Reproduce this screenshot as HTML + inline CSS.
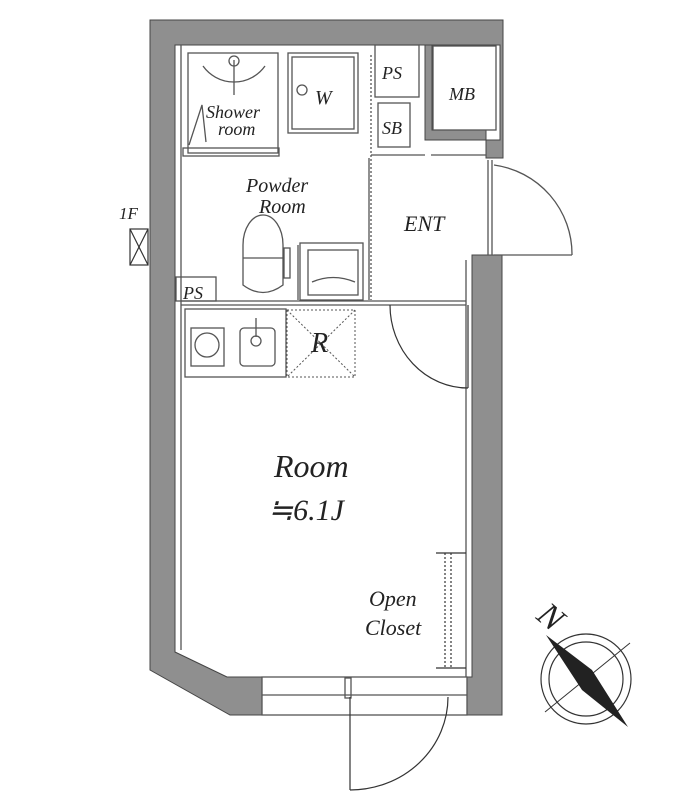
<!DOCTYPE html>
<html><head><meta charset="utf-8"><style>
html,body{margin:0;padding:0;background:#fff;}
svg{display:block;}
text{font-family:"Liberation Serif",serif;font-style:italic;fill:#222;}
</style></head><body>
<svg width="700" height="800" viewBox="0 0 700 800" xmlns="http://www.w3.org/2000/svg">
<rect width="700" height="800" fill="#fff"/>
<!-- outer walls -->
<g fill="#8f8f8f" stroke="#444" stroke-width="1">
<path d="M150,20 H503 V158 H486 V140 H500 V45 H175 V652 L227,677 H262 V715 H230 L150,670 Z"/>
<path d="M472,255 H502 V715 H467 V677 H472 Z"/>
<path d="M425,45 H432 V130 H486 V140 H425 Z"/>
</g>
<!-- interior lines -->
<g fill="none" stroke="#555" stroke-width="1.3">
<rect x="175" y="45" width="297" height="632" stroke="none"/>
<line x1="181" y1="45" x2="181" y2="650"/>
<line x1="466" y1="260" x2="466" y2="677"/>
<line x1="262" y1="682" x2="467" y2="682"/>
<rect x="262" y="677" width="205" height="38" fill="#fff"/>
<line x1="262" y1="695" x2="467" y2="695"/>
<rect x="345" y="678" width="6" height="20"/>
<!-- shower -->
<rect x="188" y="53" width="90" height="100"/>
<rect x="183" y="148" width="96" height="8"/>
<path d="M203,66 A38,38 0 0 0 265,66"/>
<line x1="234" y1="60" x2="234" y2="95"/>
<circle cx="234" cy="61" r="5"/>
<path d="M189,145 L202,105 L206,142"/>
<!-- W -->
<rect x="288" y="53" width="70" height="80"/>
<rect x="292" y="57" width="62" height="72"/>
<circle cx="302" cy="90" r="5"/>
<!-- PS SB boxes -->
<rect x="375" y="45" width="44" height="52"/>
<rect x="378" y="103" width="32" height="44"/>
<line x1="371" y1="155" x2="425" y2="155"/>
<line x1="371" y1="55" x2="371" y2="300" stroke-dasharray="2,2"/>
<line x1="369" y1="158" x2="369" y2="300"/>
<line x1="431" y1="155" x2="486" y2="155"/>
<!-- MB -->
<rect x="433" y="46" width="63" height="84"/>
<!-- ENT door -->
<line x1="488" y1="160" x2="488" y2="255"/>
<line x1="492" y1="160" x2="492" y2="255"/>
<path d="M494,165 A90,90 0 0 1 572,255"/>
<line x1="494" y1="255" x2="572" y2="255"/>
<!-- partition y~300 -->
<line x1="181" y1="301" x2="466" y2="301"/>
<line x1="181" y1="305" x2="466" y2="305"/>
<rect x="176" y="277" width="40" height="24"/>
<!-- toilet -->
<path d="M243,245 A20,30 0 0 1 283,245 V285 Q263,300 243,285 Z"/>
<line x1="243" y1="258" x2="283" y2="258"/>
<rect x="284" y="248" width="6" height="30"/>
<!-- sink vanity -->
<rect x="300" y="243" width="63" height="57"/>
<rect x="308" y="250" width="50" height="45"/>
<path d="M312,282 Q333,273 355,282"/>
<line x1="298" y1="245" x2="298" y2="300"/>
<!-- kitchen -->
<rect x="185" y="309" width="101" height="68"/>
<rect x="191" y="328" width="33" height="38"/>
<circle cx="207" cy="345" r="12"/>
<rect x="240" y="328" width="35" height="38" rx="4"/>
<circle cx="256" cy="341" r="5"/>
<line x1="256" y1="318" x2="256" y2="337"/>
</g>
<!-- R box -->
<g fill="none" stroke="#555" stroke-width="1" stroke-dasharray="2,2">
<rect x="287" y="310" width="68" height="67"/>
<line x1="287" y1="310" x2="355" y2="377"/>
<line x1="355" y1="310" x2="287" y2="377"/>
</g>
<!-- interior door -->
<g fill="none" stroke="#333" stroke-width="1.2">
<path d="M390,305 A78,83 0 0 0 468,388"/>
<line x1="468" y1="305" x2="468" y2="388"/>
<!-- entrance door bottom -->
<line x1="350" y1="697" x2="350" y2="790"/>
<path d="M350,790 A98,93 0 0 0 448,697"/>
<!-- open closet -->
<line x1="436" y1="553" x2="466" y2="553"/>
<line x1="436" y1="668" x2="466" y2="668"/>
<line x1="445" y1="553" x2="445" y2="668" stroke-dasharray="2,2"/>
<line x1="451" y1="553" x2="451" y2="668" stroke-dasharray="2,2"/>
<!-- 1F mark -->
<rect x="130" y="229" width="18" height="36"/>
<line x1="130" y1="229" x2="148" y2="265"/>
<line x1="148" y1="229" x2="130" y2="265"/>
<!-- compass -->
<circle cx="586" cy="679" r="45"/>
<circle cx="586" cy="679" r="37"/>
<line x1="545" y1="712" x2="630" y2="643" stroke-width="1"/>
</g>
<path d="M546,635 L592,670 L628,727 L582,690 Z" fill="#222"/>
<text x="535" y="618" font-size="34" font-style="normal" transform="rotate(40 535 618)" fill="#222">N</text>
<!-- labels -->
<text x="206" y="118" font-size="18">Shower</text>
<text x="218" y="135" font-size="18">room</text>
<text x="315" y="104" font-size="20">W</text>
<text x="382" y="79" font-size="18">PS</text>
<text x="382" y="134" font-size="18">SB</text>
<text x="449" y="100" font-size="18">MB</text>
<text x="246" y="192" font-size="20">Powder</text>
<text x="259" y="213" font-size="20">Room</text>
<text x="404" y="231" font-size="22">ENT</text>
<text x="183" y="299" font-size="18">PS</text>
<text x="311" y="352" font-size="28">R</text>
<text x="274" y="477" font-size="32">Room</text>
<text x="268" y="520" font-size="30" font-style="normal">≒<tspan font-style="italic">6.1J</tspan></text>
<text x="369" y="606" font-size="22">Open</text>
<text x="365" y="635" font-size="22">Closet</text>
<text x="119" y="219" font-size="17" font-style="normal">1F</text>
</svg>
</body></html>
